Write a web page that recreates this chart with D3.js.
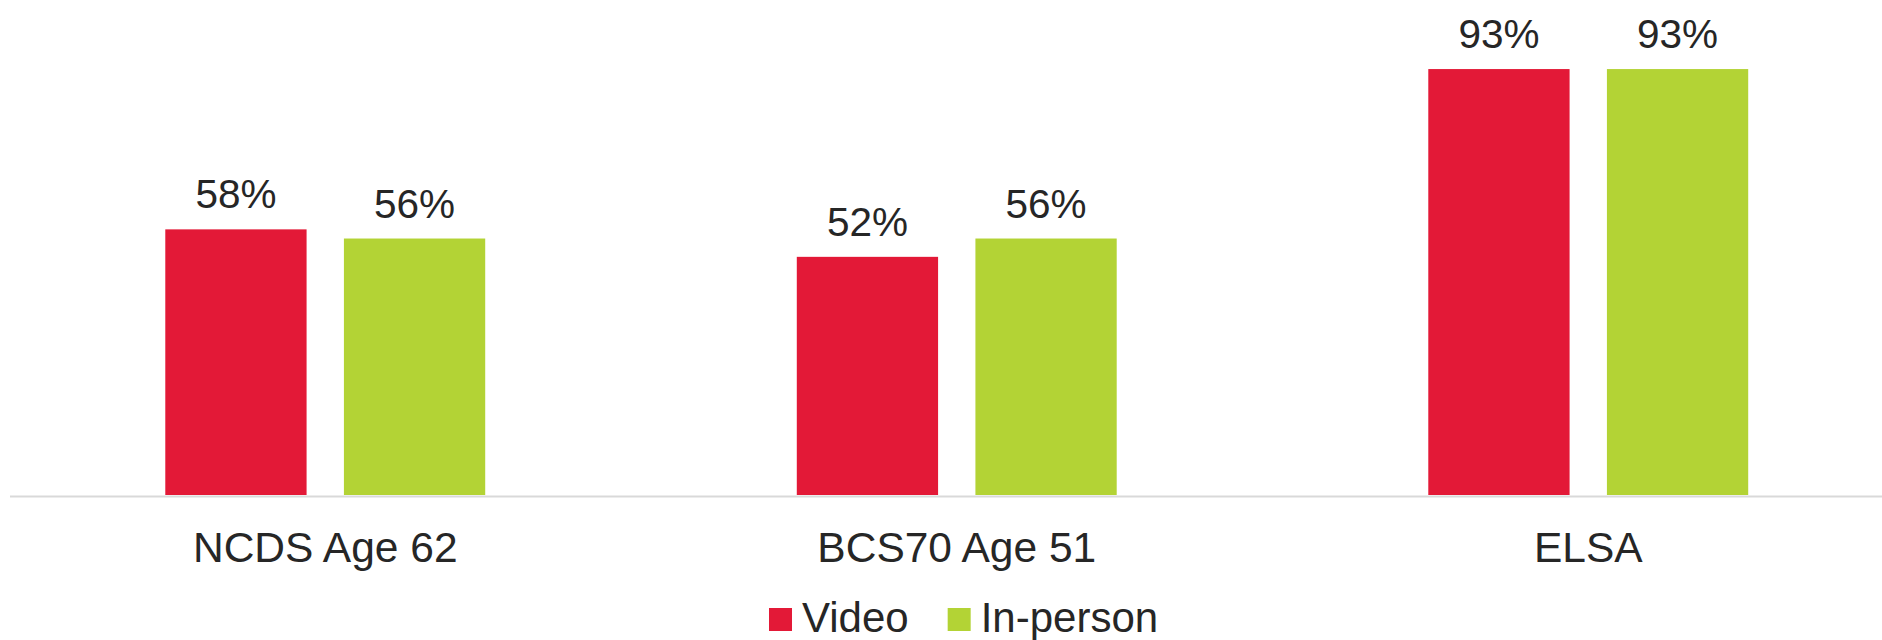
<!DOCTYPE html>
<html>
<head>
<meta charset="utf-8">
<script src="https://cdn.jsdelivr.net/npm/d3@7"></script>
<style>
  html, body { margin: 0; padding: 0; background: #fff; }
  svg { display: block; }
</style>
</head>
<body>
<svg id="chart" width="1882" height="640"></svg>
<script>
// Data
const categories = ["NCDS Age 62", "BCS70 Age 51", "ELSA"];
const seriesNames = ["Video", "In-person"];
const videoValues = [58, 52, 93];
const inPersonValues = [56, 56, 93];
const seriesColors = ["#E31937", "#B3D335"];

const series = [videoValues, inPersonValues];
const svg = d3.select("#chart");
const font = "Arial, 'Liberation Sans', sans-serif";
const textColor = "#262626";

const x0 = d3.scaleBand().domain(categories).range([9.5, 1904]).paddingInner(0).paddingOuter(0);
const bw = x0.bandwidth();
const x1 = d3.scaleBand().domain(seriesNames).range([bw * 0.2467, bw * 0.7533]).paddingInner(0.209).paddingOuter(0);
const y = d3.scaleLinear().domain([0, 100]).range([495, 37]);

// Bars
const g = svg.append("g");
categories.forEach((cat, ci) => {
  const cg = g.append("g").attr("transform", `translate(${x0(cat)},0)`);
  seriesNames.forEach((s, si) => {
    const v = series[si][ci];
    cg.append("rect")
      .attr("x", x1(s))
      .attr("y", y(v))
      .attr("width", x1.bandwidth())
      .attr("height", y(0) - y(v))
      .attr("fill", seriesColors[si]);
    cg.append("text")
      .attr("x", x1(s) + x1.bandwidth() / 2)
      .attr("y", y(v) - 21)
      .attr("text-anchor", "middle")
      .attr("font-family", font)
      .attr("font-size", 40.5)
      .attr("fill", textColor)
      .text(v + "%");
  });
});

// Axis
const axis = svg.append("g")
  .attr("transform", `translate(0,${y(0) + 1})`)
  .call(d3.axisBottom(x0).tickSize(0).tickPadding(0));
axis.select(".domain").attr("stroke", "#D9D9D9").attr("stroke-width", 2);
axis.selectAll(".tick text")
  .attr("y", 0).attr("dy", null)
  .attr("transform", "translate(0,66)")
  .attr("font-family", font)
  .attr("font-size", 42.5)
  .attr("fill", textColor);

// Legend
const legend = svg.append("g");
let lx = 769;
seriesNames.forEach((s, i) => {
  legend.append("rect")
    .attr("x", lx).attr("y", 608)
    .attr("width", 23).attr("height", 23)
    .attr("fill", seriesColors[i]);
  const t = legend.append("text")
    .attr("x", lx + 33).attr("y", 631.5)
    .attr("font-family", font)
    .attr("font-size", 42)
    .attr("fill", textColor)
    .text(s);
  lx = lx + 33 + t.node().getComputedTextLength() + 39;
});
</script>
</body>
</html>
